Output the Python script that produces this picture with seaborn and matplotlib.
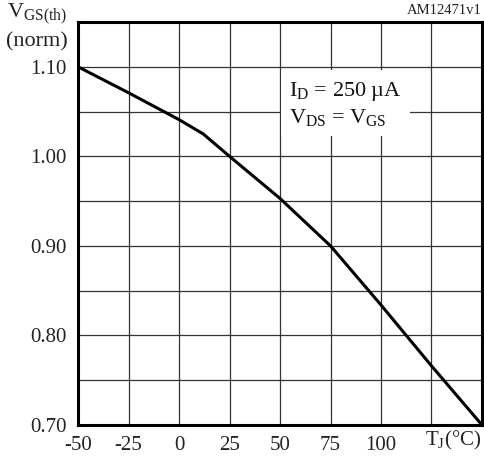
import numpy as np
import pandas as pd
import matplotlib
matplotlib.use("Agg")
import matplotlib.pyplot as plt
import seaborn as sns

# Data
temperature = [-50, -25, 0, 12, 25, 50, 75, 100, 125, 150]
vgs_norm = [1.10, 1.071, 1.041, 1.025, 1.000, 0.953, 0.900, 0.834, 0.766, 0.700]
x_tick_values = [-50, -25, 0, 25, 50, 75, 100, 125, 150]
x_tick_labels = ["-50", "-25", "0", "25", "50", "75", "100", "", ""]
y_tick_values = [0.70, 0.75, 0.80, 0.85, 0.90, 0.95, 1.00, 1.05, 1.10, 1.15]
y_tick_labels = ["0.70", "", "0.80", "", "0.90", "", "1.00", "", "1.10", ""]

sns.set_style("white")
plt.rcParams["font.family"] = ["Liberation Serif", "DejaVu Serif"]
plt.rcParams["mathtext.fontset"] = "custom"
plt.rcParams["mathtext.rm"] = "Liberation Serif"
plt.rcParams["mathtext.it"] = "Liberation Serif"

df = pd.DataFrame({"T": temperature, "V": vgs_norm})

fig = plt.figure(figsize=(4.85, 4.59), dpi=100)
ax = fig.add_axes([78 / 485, 1 - 425 / 459, 404 / 485, 403 / 459])

sns.lineplot(data=df, x="T", y="V", ax=ax, color="black", linewidth=2.2, zorder=4)

ax.set_xlim(-50, 150)
ax.set_ylim(0.70, 1.15)
ax.set_xticks(x_tick_values)
ax.set_xticklabels(x_tick_labels)
ax.set_yticks(y_tick_values)
ax.set_yticklabels(y_tick_labels)
ax.tick_params(axis="both", length=0, labelsize=15, pad=8, colors="#222222")
ax.grid(True, color="#333333", linewidth=0.9, zorder=1)
ax.set_axisbelow(True)
for s in ax.spines.values():
    s.set_color("black")
    s.set_linewidth(2.2)
    s.set_zorder(5)
ax.set_xlabel("")
ax.set_ylabel("")

# x-axis title in place of the last labels
fig.text(453 / 485, 1 - 440 / 459, r"T$\mathregular{_{J}}$(°C)", fontsize=15,
         ha="center", va="center", color="#222222")

# y-axis title
fig.text(37 / 485, 1 - 14 / 459, r"V$\mathregular{_{GS(th)}}$", fontsize=16,
         ha="center", va="center", color="#222222")
fig.text(37 / 485, 1 - 42 / 459, "(norm)", fontsize=16,
         ha="center", va="center", color="#222222")

# code label
fig.text(482 / 485, 1 - 11 / 459, "AM12471v1", fontsize=10.5,
         ha="right", va="center", color="#222222")

# annotation
ax.text((289 - 78) / 404, 1 - (104 - 22) / 403,
        "I$\\mathregular{_{D}}$ = 250 µA\nV$\\mathregular{_{DS}}$ = V$\\mathregular{_{GS}}$",
        transform=ax.transAxes, fontsize=16, ha="left", va="center",
        linespacing=1.25, color="#111111", zorder=3,
        bbox=dict(facecolor="white", edgecolor="none", pad=6))

fig.savefig("out.png", dpi=100)
